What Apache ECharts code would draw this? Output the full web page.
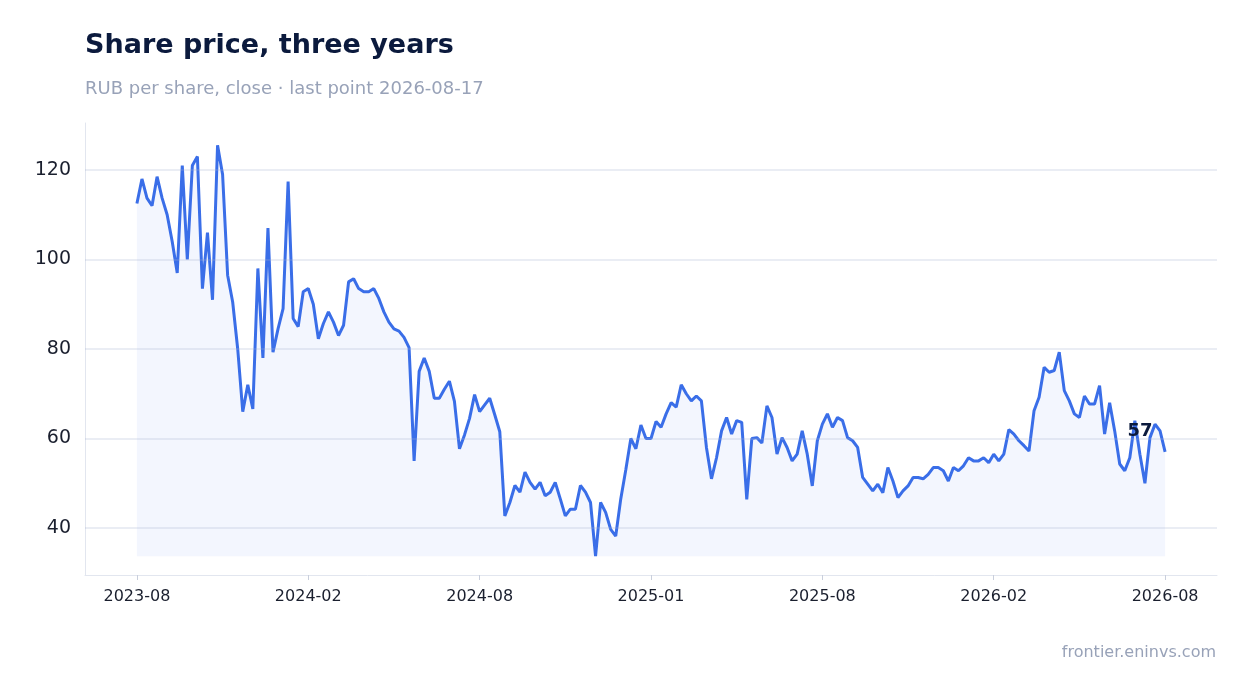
<!DOCTYPE html>
<html><head><meta charset="utf-8">
<script src="https://cdn.jsdelivr.net/npm/echarts@6/dist/echarts.min.js"></script>
<style>html,body{margin:0;padding:0;background:#fff}#c{width:1247px;height:693px}</style>
</head><body><div id="c"></div>
<script>
const tickLabels = ["2023-08","2024-02","2024-08","2025-01","2025-08","2026-02","2026-08"];
const yTicks = [40,60,80,100,120];
const prices = [
112.5,118,113.7,112,118.5,113.7,110,104,97,121,100,121,123,93.5,106,91,125.5,119,96.5,90.5,
80,66,72,66.6,98,78,107,79.3,84.5,89,117.4,86.8,85,92.8,93.5,90,82.3,85.7,88.3,86,
83,85.3,95,95.7,93.5,92.8,92.8,93.5,91.3,88.3,86,84.5,84,82.6,80.3,55,75,78,75,69,
69,71,72.8,68.3,57.7,60.8,64.5,69.8,66,67.5,69,65.3,61.5,42.7,45.7,49.5,48,52.5,50.2,48.7,
50.2,47.2,48,50.2,46.5,42.7,44.2,44.2,49.5,48,45.7,33.7,45.7,43.5,39.7,38.2,46.5,53,60,57.7,
63,60,60,63.8,62.5,65.5,68,67,72,70,68.4,69.5,68.4,58,51,55.7,61.7,64.7,61,64,
63.6,46.4,60,60.2,59,67.3,64.7,56.5,60.2,58,55,56.5,61.7,56.5,49.4,59.5,63.2,65.5,62.5,64.7,
64,60.2,59.5,58,51.3,49.8,48.3,49.8,47.9,53.5,50.5,46.8,48.3,49.4,51.3,51.3,51,52,53.5,53.5,
52.8,50.5,53.5,52.8,53.9,55.7,55,55,55.7,54.6,56.5,55,56.5,62,61,59.5,58.4,57.2,66.2,69.2,
75.9,74.8,75.2,79.3,70.7,68.4,65.5,64.7,69.5,67.7,67.7,71.8,61,68,61.7,54.3,52.8,55.7,64,56.5,
50,60.2,63.2,61.7,57
];
const tickIdx = tickLabels.map((_, k) => k * 34);
const minPrice = Math.min(...prices);
const lastIdx = prices.length - 1;
const lastVal = prices[lastIdx];
const data = prices.map((v, i) => [i, v]);
const chart = echarts.init(document.getElementById('c'));
chart.setOption({
  animation: false,
  title: [
    {text: 'Share price, three years', left: 80, top: 27, textStyle: {fontSize: 27, fontWeight: 'bold', color: '#0b1a3d', fontFamily: 'DejaVu Sans'}},
    {text: 'RUB per share, close · last point 2026-08-17', left: 80, top: 75, textStyle: {fontSize: 18, fontWeight: 'normal', color: '#98a2b8', fontFamily: 'DejaVu Sans'}},
    {text: 'frontier.eninvs.com', right: 26, top: 640, textStyle: {fontSize: 16, fontWeight: 'normal', color: '#98a2b8', fontFamily: 'DejaVu Sans'}}
  ],
  grid: {left: 85, right: 30, top: 123, bottom: 118},
  xAxis: {
    type: 'value', min: -10.3, max: 214.3,
    axisLine: {show: true, onZero: false, lineStyle: {color: '#e2e6ef'}},
    axisTick: {show: true, customValues: tickIdx, length: 5, lineStyle: {color: '#c9cfdc'}},
    axisLabel: {customValues: tickIdx, formatter: v => tickLabels[Math.round(v / 34)], fontSize: 16, color: '#1a1f2e', margin: 14, fontFamily: 'DejaVu Sans'},
    splitLine: {show: false}
  },
  yAxis: {
    type: 'value', min: 29.5, max: 130.5,
    axisLine: {show: true, onZero: false, lineStyle: {color: '#e2e6ef'}},
    axisTick: {show: false},
    axisLabel: {customValues: yTicks, fontSize: 19, color: '#1a1f2e', margin: 14, fontFamily: 'DejaVu Sans'},
    splitLine: {show: false}
  },
  series: [{
    type: 'line', data: data, showSymbol: false, symbol: 'none',
    lineStyle: {color: '#3a6ee8', width: 3},
    areaStyle: {color: 'rgba(58,110,232,0.09)', origin: minPrice},
    markLine: {silent: true, symbol: 'none', label: {show: false},
      lineStyle: {color: 'rgba(160,175,205,0.3)', type: 'solid', width: 1.5},
      data: yTicks.map(t => ({yAxis: t}))},
    markPoint: {silent: true, symbol: 'circle', symbolSize: 1,
      itemStyle: {color: 'rgba(0,0,0,0)'},
      label: {show: true, position: 'top', offset: [-25, -6], formatter: () => String(Math.round(lastVal)),
        color: '#0b1a3d', fontSize: 18, fontWeight: 'bold', fontFamily: 'DejaVu Sans'},
      data: [{coord: [lastIdx, lastVal]}]}
  }]
});
</script></body></html>
